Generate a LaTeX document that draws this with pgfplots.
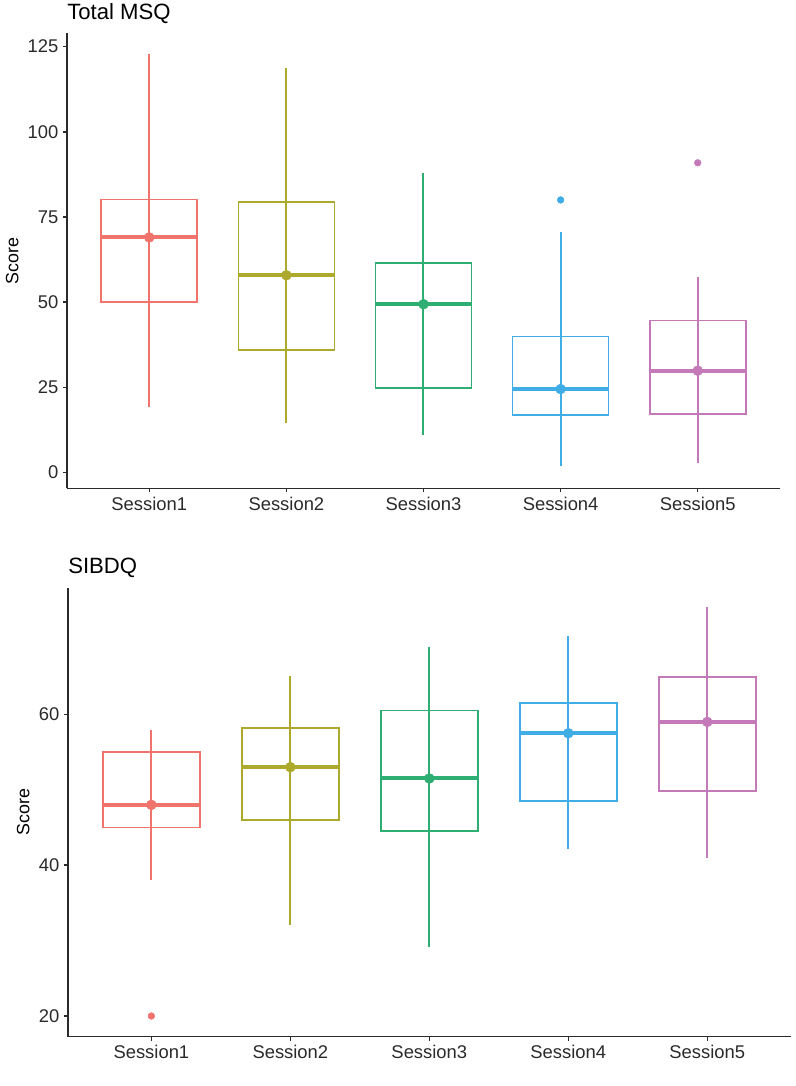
\documentclass[border=0pt]{standalone}
\usepackage{fontspec}
\setmainfont{Liberation Sans}
\usepackage{pgfplots}
\pgfplotsset{compat=1.18}
\definecolor{c1}{HTML}{F0736C}
\definecolor{c2}{HTML}{ADA92C}
\definecolor{c3}{HTML}{2EAE72}
\definecolor{c4}{HTML}{40ADE6}
\definecolor{c5}{HTML}{C47AB9}
\definecolor{axc}{HTML}{2A2A2A}
% #1 x, #2 colour, #3 low, #4 q1, #5 median, #6 q3, #7 high
\newcommand\sess[7]{%
  \addplot[#2, line width=1.5pt, forget plot] coordinates {(#1,#3) (#1,#7)};
  \addplot[#2, line width=1.3pt, forget plot] coordinates {(#1-0.35,#4) (#1+0.35,#4) (#1+0.35,#6) (#1-0.35,#6) (#1-0.35,#4)} -- cycle;
  \addplot[#2, line width=3pt, forget plot] coordinates {(#1-0.35,#5) (#1+0.35,#5)};
  \addplot[#2, only marks, mark=*, mark size=3.7pt, mark options={draw=none, fill=#2}, forget plot] coordinates {(#1,#5)};
}
\newcommand\outl[3]{%
  \addplot[#2, only marks, mark=*, mark size=2.5pt, mark options={draw=none, fill=#2}, forget plot] coordinates {(#1,#3)};
}
\pgfplotsset{
  sessstyle/.style={
    scale only axis,
    axis lines*=left,
    axis line style={axc, line width=1.1pt},
    xmin=0.4, xmax=5.6,
    xtick={1,2,3,4,5},
    xticklabels={Session1,Session2,Session3,Session4,Session5},
    tick align=outside,
    major tick length=3pt,
    tick style={axc, line width=1.1pt},
    every tick label/.append style={font=\fontsize{13.8}{15}\selectfont, color=axc},
    /pgf/number format/assume math mode=true,
    ylabel={Score},
    ylabel style={font=\fontsize{13.4}{15}\selectfont, color=black},
    title style={at={(rel axis cs:0,1)}, anchor=base west, inner sep=0pt, yshift=4.3pt, font=\fontsize{16.6}{19}\selectfont},
    clip=false,
  }
}
\begin{document}
\begin{tikzpicture}
\path[use as bounding box] (0,0) rectangle (597pt,-814.5pt);
\begin{axis}[sessstyle,
  at={(50.25pt,-366.2pt)}, anchor=south west,
  width=534.75pt, height=341.25pt,
  ymin=-4.6, ymax=128.9,
  ytick={0,25,50,75,100,125},
  title={Total MSQ}]
\sess{1}{c1}{19.2}{50}{69}{80.1}{122.8}
\sess{2}{c2}{14.5}{36.0}{57.9}{79.4}{118.7}
\sess{3}{c3}{11.1}{24.8}{49.4}{61.6}{87.8}
\sess{4}{c4}{1.8}{16.9}{24.5}{39.9}{70.7}
\sess{5}{c5}{2.8}{17.2}{29.9}{44.6}{57.3}
\outl{4}{c4}{80}
\outl{5}{c5}{90.9}
\end{axis}
\begin{axis}[sessstyle,
  at={(51pt,-777.5pt)}, anchor=south west,
  width=542pt, height=336.75pt,
  ymin=17.26, ymax=76.8,
  ytick={20,40,60},
  title={SIBDQ}]
\sess{1}{c1}{38.0}{45.0}{48.0}{55.0}{57.9}
\sess{2}{c2}{32.1}{46.0}{53.0}{58.2}{65.1}
\sess{3}{c3}{29.1}{44.5}{51.5}{60.5}{68.9}
\sess{4}{c4}{42.1}{48.5}{57.5}{61.5}{70.4}
\sess{5}{c5}{41.0}{49.8}{59.0}{65.0}{74.2}
\outl{1}{c1}{20}
\end{axis}
\end{tikzpicture}
\end{document}
